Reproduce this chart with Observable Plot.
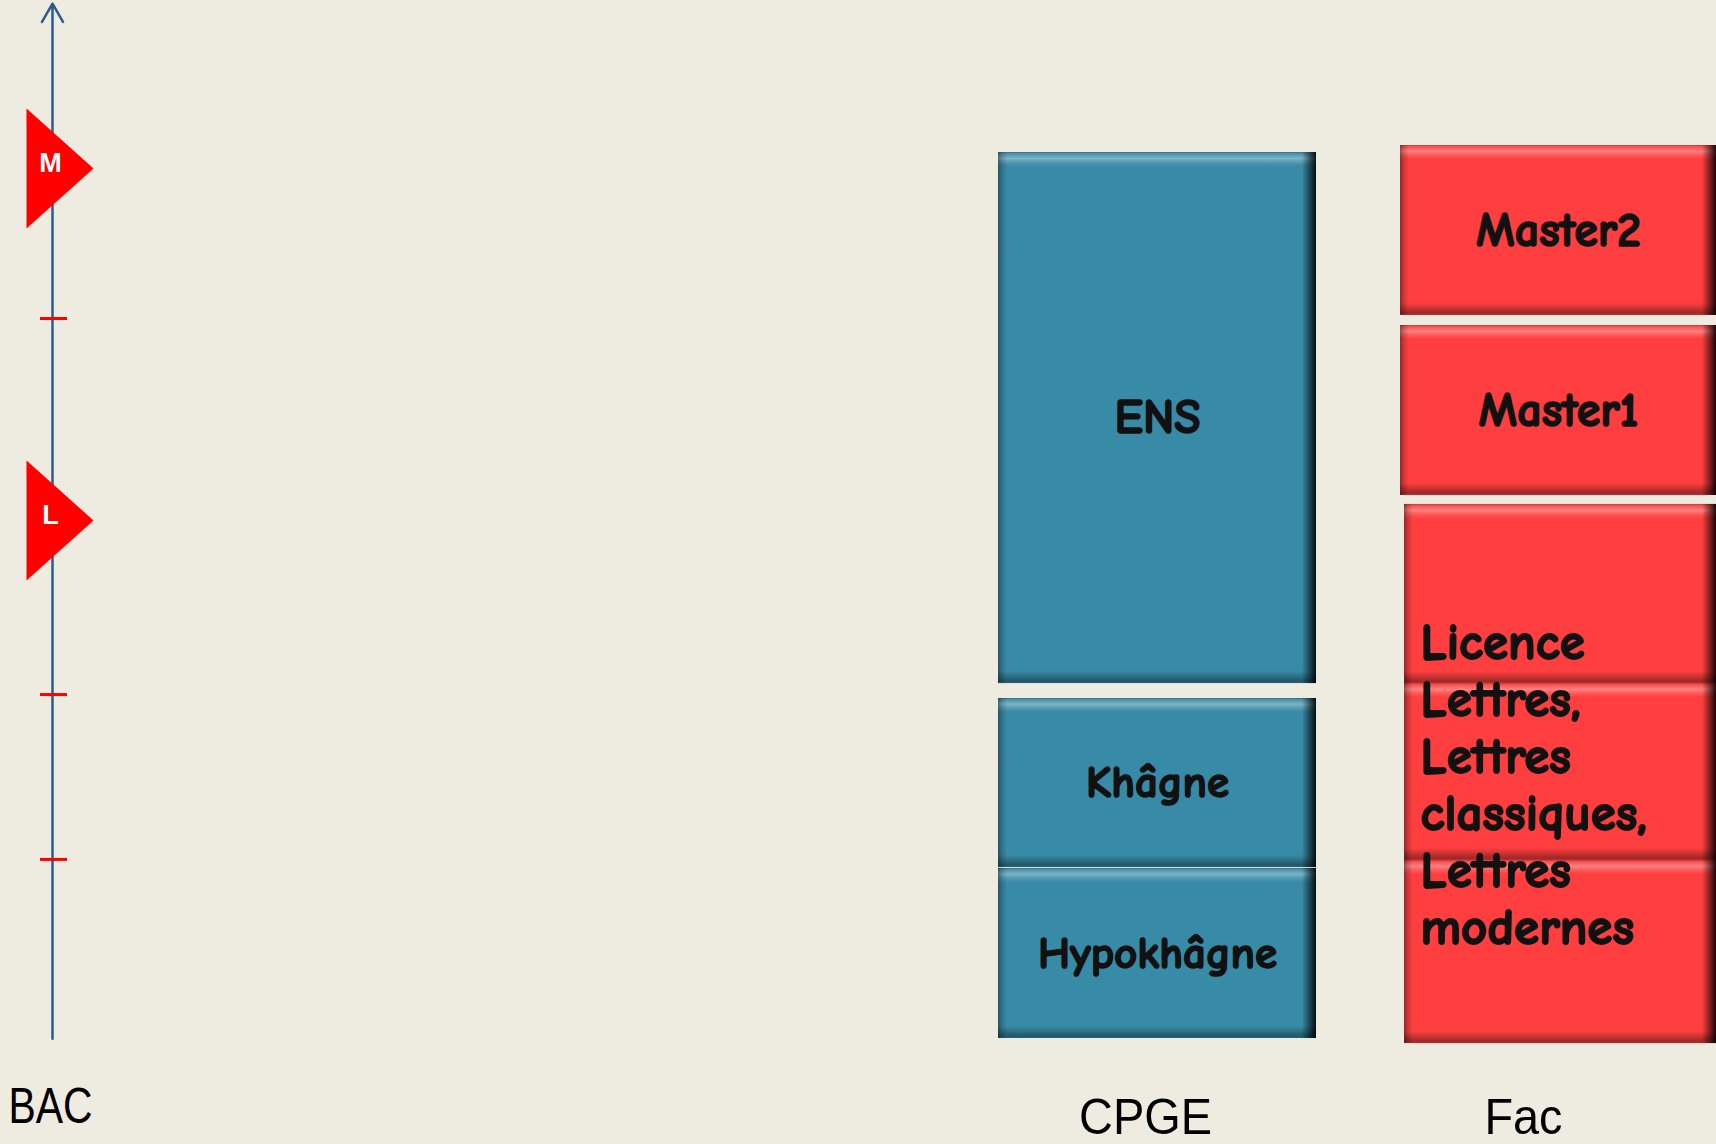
<!DOCTYPE html>
<html>
<head>
<meta charset="utf-8">
<script src="https://cdn.jsdelivr.net/npm/d3@7"></script>
<script src="https://cdn.jsdelivr.net/npm/@observablehq/plot@0.6"></script>
<style>
  html, body { margin: 0; padding: 0; background: #EEEBE0; overflow: hidden; }
  #chart svg { display: block; }
</style>
</head>
<body>
<div id="chart"></div>
<script>
// ---- data (x in hundreds of px-equivalent units, y in years after the BAC) ----
const columnNames = ["CPGE", "Fac"];
const columnX1 = [9.98, 14.02];
const columnX2 = [13.16, 17.16];
const columnColors = ["#388BA6", "#FF3F3F"];
const columnLabelX = [11.45, 15.23];
const columnLabelY = -0.43;

const blockNames   = ["Hypokhâgne", "Khâgne", "ENS", "L1", "L2", "L3", "Master1", "Master2"];
const blockColumn  = ["CPGE", "CPGE", "CPGE", "Fac", "Fac", "Fac", "Fac", "Fac"];
const blockStart   = [0.011, 0.961, 1.983, -0.017, 1.000, 1.983, 3.028, 4.028];
const blockEnd     = [0.956, 1.900, 4.933, 1.000, 1.983, 2.978, 3.972, 4.972];
const blockText    = ["Hypokhâgne", "Khâgne", "ENS", "", "", "", "Master1", "Master2"];
const blockFont    = [45, 45, 48, 0, 0, 0, 48, 48];
const blockLeft    = [9.98, 9.98, 9.98, 14.04, 14.04, 14.04, 14.00, 14.00];

const licenceText = "Licence\nLettres,\nLettres\nclassiques,\nLettres\nmodernes";
const licenceX = 14.20;
const licenceY = 1.43;

const axisX = 0.52;
const axisBottom = 0.01;
const axisTop = 5.76;
const tickValues = [1.006, 1.922, 4.011];
const tickX1 = 0.40, tickX2 = 0.67;

const flagLabels = ["M", "L"];
const flagValues = [4.844, 2.889];
const flagLabelValues = [4.872, 2.917];
const flagX = 0.26, flagLabelX = 0.50;

const startLabel = "BAC";
const startLabelX = 0.50, startLabelY = -0.37;

// text widths (px) of the narrow bottom labels
const labelWidths = {"BAC": 84, "CPGE": 133, "Fac": 78};

// ---- derived tables ----
const blocks = blockNames.map((name, i) => {
  const c = columnNames.indexOf(blockColumn[i]);
  return {
    name, column: blockColumn[i], start: blockStart[i], end: blockEnd[i],
    text: blockText[i], size: blockFont[i],
    x1: blockLeft[i], x2: columnX2[c], color: columnColors[c],
    mid: (blockStart[i] + blockEnd[i]) / 2, xm: (blockLeft[i] + columnX2[c]) / 2
  };
});
const columns = columnNames.map((name, i) => ({name, x: columnLabelX[i]}));
const flags = flagLabels.map((label, i) => ({label, y: flagValues[i], ly: flagLabelValues[i]}));

const flagSymbol = {
  draw(context, size) {
    const r = Math.sqrt(size / Math.PI);
    context.moveTo(0, -r);
    context.lineTo(1.117 * r, 0);
    context.lineTo(0, r);
    context.closePath();
  }
};

function defs() {
  const ns = "http://www.w3.org/2000/svg";
  const d = document.createElementNS(ns, "defs");
  function grad(id, vertical, stops) {
    const g = document.createElementNS(ns, "linearGradient");
    g.setAttribute("id", id);
    g.setAttribute("x1", "0"); g.setAttribute("y1", "0");
    g.setAttribute("x2", vertical ? "0" : "1"); g.setAttribute("y2", vertical ? "1" : "0");
    for (const [o, c, a] of stops) {
      const s = document.createElementNS(ns, "stop");
      s.setAttribute("offset", o); s.setAttribute("stop-color", c); s.setAttribute("stop-opacity", a);
      g.appendChild(s);
    }
    d.appendChild(g);
  }
  grad("sideGrad", false, [[0, "#000", 0.4], [0.012, "#000", 0.18], [0.028, "#000", 0], [0.955, "#000", 0], [0.978, "#000", 0.45], [1, "#000", 0.9]]);
  grad("topGrad", true, [[0, "#000", 0.3], [0.15, "#fff", 0.1], [0.45, "#fff", 0.35], [0.7, "#fff", 0.15], [1, "#fff", 0]]);
  grad("botGrad", true, [[0, "#000", 0], [0.4, "#000", 0.18], [0.85, "#000", 0.38], [1, "#000", 0.25]]);
  return d;
}

const blockFontFamily = "'Comic Sans MS', 'Comic Neue', Lato, sans-serif";
const labelFontFamily = "'Liberation Sans Narrow', 'Arial Narrow', 'Liberation Sans', Arial, sans-serif";

const chart = Plot.plot({
  width: 1716,
  height: 1144,
  marginTop: 0, marginRight: 0, marginLeft: 0, marginBottom: 104,
  style: {background: "#EEEBE0", overflow: "visible"},
  x: {domain: [0, 17.16], axis: null},
  y: {domain: [0, 5.7778], axis: null},
  marks: [
    defs,
    // blocks
    Plot.rect(blocks, {x1: "x1", x2: "x2", y1: "start", y2: "end", fill: "color"}),
    Plot.rect(blocks, {x1: "x1", x2: "x2", y1: "end", y2: "end", insetBottom: -14, fill: "url(#topGrad)"}),
    Plot.rect(blocks, {x1: "x1", x2: "x2", y1: "start", y2: "start", insetTop: -12, fill: "url(#botGrad)"}),
    Plot.rect(blocks, {x1: "x1", x2: "x2", y1: "start", y2: "end", fill: "url(#sideGrad)"}),
    Plot.text(blocks.filter(d => d.text), {x: "xm", y: "mid", text: "text", fontSize: "size", fontWeight: "bold", fontFamily: blockFontFamily, fill: "#111", stroke: "#111", strokeWidth: 1.6}),
    Plot.text([licenceText], {x: licenceX, y: licenceY, text: d => d, textAnchor: "start", lineHeight: 1.12, fontSize: 51, fontWeight: "bold", fontFamily: blockFontFamily, fill: "#111", stroke: "#111", strokeWidth: 1.8}),
    // time axis
    Plot.arrow([0], {x1: axisX, x2: axisX, y1: axisBottom, y2: axisTop, stroke: "#2E5C8A", strokeWidth: 2.5, headLength: 12.6, headAngle: 60, bend: 0, inset: 0}),
    Plot.ruleY(tickValues, {x1: tickX1, x2: tickX2, stroke: "#FF0000", strokeWidth: 3}),
    Plot.dot(flags, {x: flagX, y: "y", r: 60, symbol: flagSymbol, fill: "#FF0000", stroke: "none"}),
    Plot.text(flags, {x: flagLabelX, y: "ly", text: "label", fill: "white", fontSize: 27, fontWeight: "bold", fontFamily: "'Liberation Sans', Arial, sans-serif"}),
    // bottom labels
    Plot.text([startLabel], {x: startLabelX, y: startLabelY, text: d => d, fontSize: 50, fontFamily: labelFontFamily, fill: "#000", className: "bottom-label"}),
    Plot.text(columns, {x: "x", y: columnLabelY, text: "name", fontSize: 50, fontFamily: labelFontFamily, fill: "#000", className: "bottom-label"})
  ]
});
d3.select(chart).selectAll(".bottom-label text").each(function () {
  const w = labelWidths[this.textContent];
  if (w) { this.setAttribute("textLength", w); this.setAttribute("lengthAdjust", "spacingAndGlyphs"); }
});
document.getElementById("chart").appendChild(chart);
</script>
</body>
</html>
